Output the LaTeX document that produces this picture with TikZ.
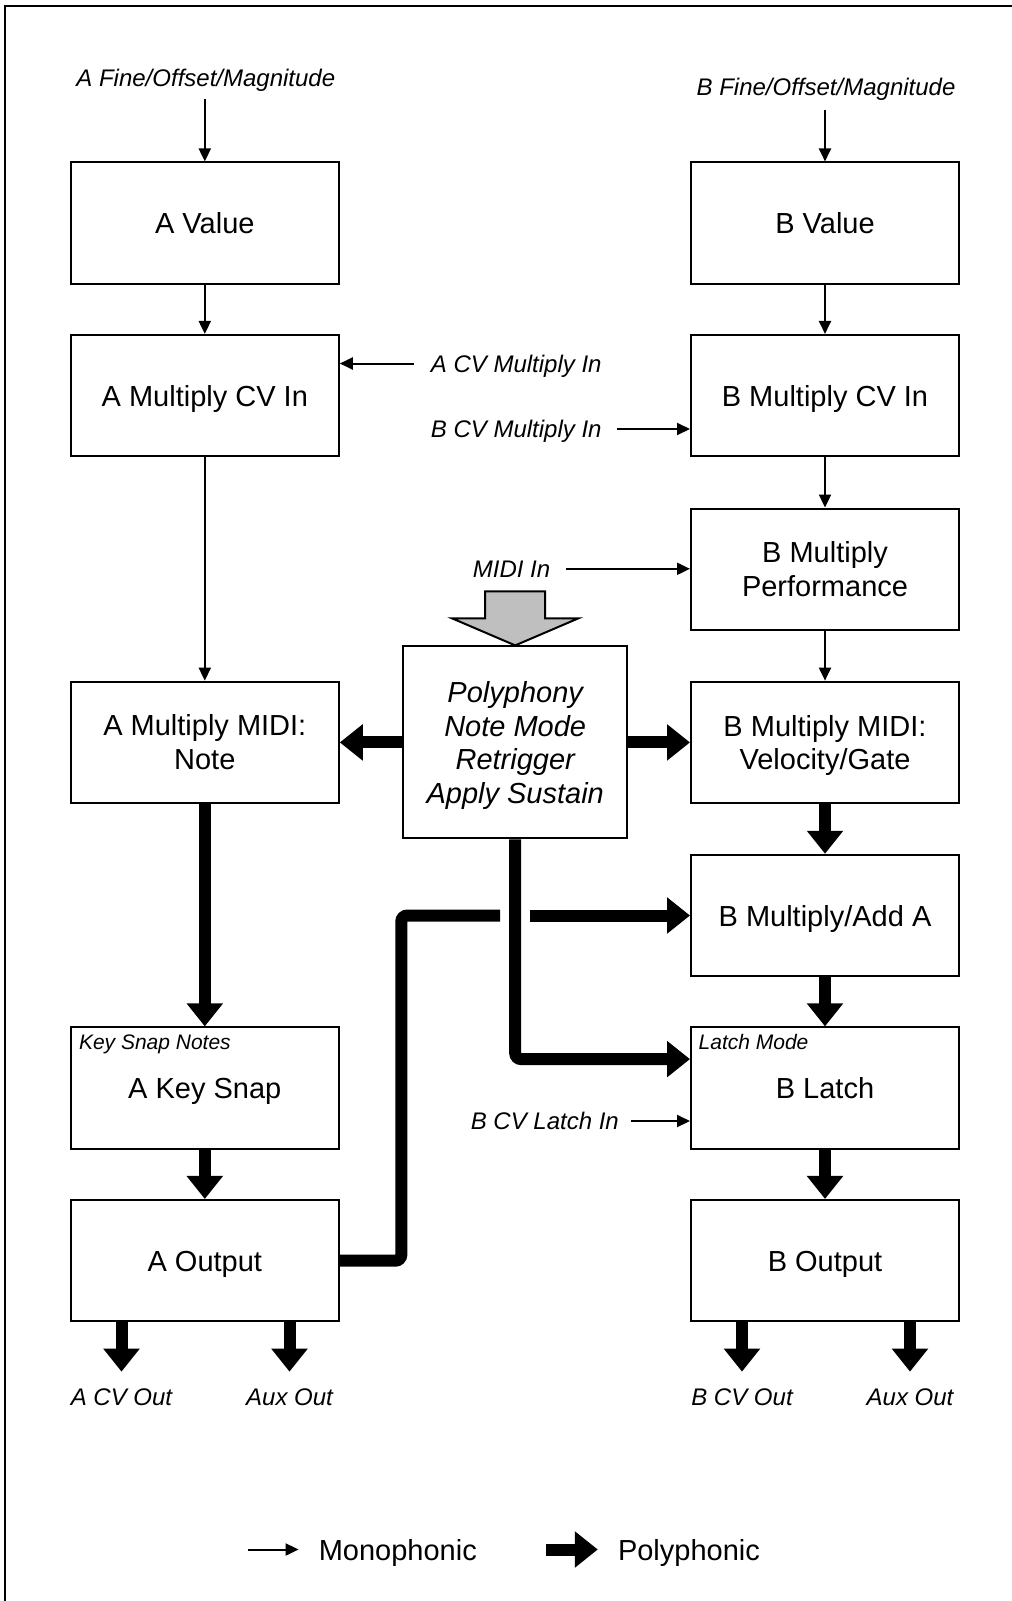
\documentclass[tikz,border=0pt]{standalone}
\usepackage{fontspec}
\setmainfont{Liberation Sans}
\usetikzlibrary{arrows.meta}
\begin{document}
\begin{tikzpicture}[x=1pt,y=1pt,
  blk/.style={draw, line width=2pt, minimum width=268pt, minimum height=121.5pt, inner sep=0pt, align=center, font=\fontsize{29}{33.6}\selectfont},
  sl/.style={text height=21pt, text depth=0pt},
  lbl/.style={inner sep=0pt, anchor=base, font=\fontsize{24}{28}\selectfont\itshape},
  small/.style={inner sep=0pt, anchor=base west, font=\fontsize{21}{24}\selectfont\itshape},
  legtxt/.style={inner sep=0pt, anchor=base west, font=\fontsize{29}{33.6}\selectfont},
  mono/.style={line width=2pt, -{Triangle[length=13pt,width=12pt]}},
  poly/.style={line width=12pt, -{Triangle[length=23pt,width=35pt]}},
  polyline/.style={line width=12pt},
]
\useasboundingbox (0,0) rectangle (1012,-1601);
% frame (top and left edges only)
\draw[line width=2pt] (5,-1601) -- (5,-6) -- (1012,-6);

% boxes
\node[blk, sl] (av)   at (204.8,-223.2) {A Value};
\node[blk, sl] (bv)   at (825,-223.2) {B Value};
\node[blk, sl] (am)   at (204.8,-395.7) {A Multiply CV In};
\node[blk, sl] (bm)   at (825,-395.7) {B Multiply CV In};
\node[blk] (bp)   at (825,-569.3) {B Multiply\\Performance};
\node[blk] (ami)  at (204.8,-742.4) {A Multiply MIDI:\\Note};
\node[blk, text depth=0pt] (bmi)  at (825,-742.4) {B Multiply MIDI:\\Velocity/Gate};
\node[blk, sl] (badd) at (825,-915.5) {B Multiply/Add A};
\node[blk, sl] (aks)  at (204.8,-1088.1) {A Key Snap};
\node[blk, sl] (bl)   at (825,-1088.1) {B Latch};
\node[blk, sl] (ao)   at (204.8,-1260.7) {A Output};
\node[blk, sl] (bo)   at (825,-1260.7) {B Output};
\node[blk, minimum width=223.6pt, minimum height=192pt, text depth=0pt, font=\fontsize{29}{33.6}\selectfont\itshape] (pm) at (515.2,-742.4) {Polyphony\\Note Mode\\Retrigger\\Apply Sustain};

\node[small] (ksn) at ([xshift=9pt,yshift=-22.8pt]aks.north west) {Key Snap Notes};
\node[small] (lm)  at ([xshift=8.5pt,yshift=-22.8pt]bl.north west) {Latch Mode};

% labels
\node[lbl] (afine) at (205.8,-86.2) {A Fine/Offset/Magnitude};
\node[lbl] (bfine) at (826,-95.4) {B Fine/Offset/Magnitude};
\node[lbl] (acv)   at (516.2,-372.1) {A CV Multiply In};
\node[lbl] (bcv)   at (516.2,-437.6) {B CV Multiply In};
\node[lbl] (midi)  at (511.6,-577.4) {MIDI In};
\node[lbl] (bcl)   at (544.8,-1129.6) {B CV Latch In};
\node[lbl] (acvo)  at (121.5,-1405.6) {A CV Out};
\node[lbl] (aaux)  at (289.5,-1405.6) {Aux Out};
\node[lbl] (bcvo)  at (742,-1405.6) {B CV Out};
\node[lbl] (baux)  at (910,-1405.6) {Aux Out};

% monophonic connectors
\draw[mono] ([yshift=-8pt]afine.south -| av.north) -- (av.north);
\draw[mono] ([yshift=-9.6pt]bfine.south -| bv.north) -- (bv.north);
\draw[mono] (av) -- (am);
\draw[mono] (bv) -- (bm);
\draw[mono] (bm) -- (bp);
\draw[mono] (bp) -- (bmi);
\draw[mono] (am) -- (ami);
\draw[mono] ([xshift=-17pt,yshift=8.6pt]acv.base west) -- ([yshift=8.6pt]acv.base west -| am.east);
\draw[mono] ([xshift=15pt,yshift=8.6pt]bcv.base east) -- ([yshift=8.6pt]bcv.base east -| bm.west);
\draw[mono] ([xshift=16pt,yshift=8.6pt]midi.base east) -- ([yshift=8.6pt]midi.base east -| bp.west);
\draw[mono] ([xshift=12pt,yshift=8.6pt]bcl.base east) -- ([yshift=8.6pt]bcl.base east -| bl.west);

% grey input arrow
\fill[gray!50!white, draw=black, line width=2pt]
  ([xshift=-30pt,yshift=54pt]pm.north) -- ([xshift=30pt,yshift=54pt]pm.north)
  -- ([xshift=30pt,yshift=27pt]pm.north) -- ([xshift=63pt,yshift=27pt]pm.north)
  -- (pm.north) -- ([xshift=-63pt,yshift=27pt]pm.north)
  -- ([xshift=-30pt,yshift=27pt]pm.north) -- cycle;

% polyphonic connectors
\draw[poly] (pm.west) -- (ami.east);
\draw[poly] (pm.east) -- (bmi.west);
\draw[poly] (bmi) -- (badd);
\draw[poly] (badd) -- (bl);
\draw[poly] (bl) -- (bo);
\draw[poly] (ami) -- (aks);
\draw[poly] (aks) -- (ao);
\draw[poly, rounded corners=6pt] (pm.south) |- ([yshift=29pt]bl.west);

\coordinate (bend) at (401.3,-915.5);
\coordinate (gapL) at (500,-915.5);
\coordinate (gapR) at (529.5,-915.5);
\draw[polyline, rounded corners=6pt] (ao.east) -| (bend) -- (gapL);
\draw[poly] (gapR) -- (gapR -| badd.west);

\draw[poly] (ao.south -| acvo) -- ([yshift=17pt]acvo.north);
\draw[poly] (ao.south -| aaux) -- ([yshift=17pt]aaux.north);
\draw[poly] (bo.south -| bcvo) -- ([yshift=17pt]bcvo.north);
\draw[poly] (bo.south -| baux) -- ([yshift=17pt]baux.north);

% legend
\node[legtxt] (lmono) at (318.6,-1560.5) {Monophonic};
\node[legtxt] (lpoly) at (617.8,-1560.5) {Polyphonic};
\draw[mono] ([xshift=-70.5pt,yshift=11pt]lmono.base west) -- ([xshift=-20pt,yshift=11pt]lmono.base west);
\draw[poly] ([xshift=-71.5pt,yshift=11pt]lpoly.base west) -- ([xshift=-20pt,yshift=11pt]lpoly.base west);
\end{tikzpicture}
\end{document}
